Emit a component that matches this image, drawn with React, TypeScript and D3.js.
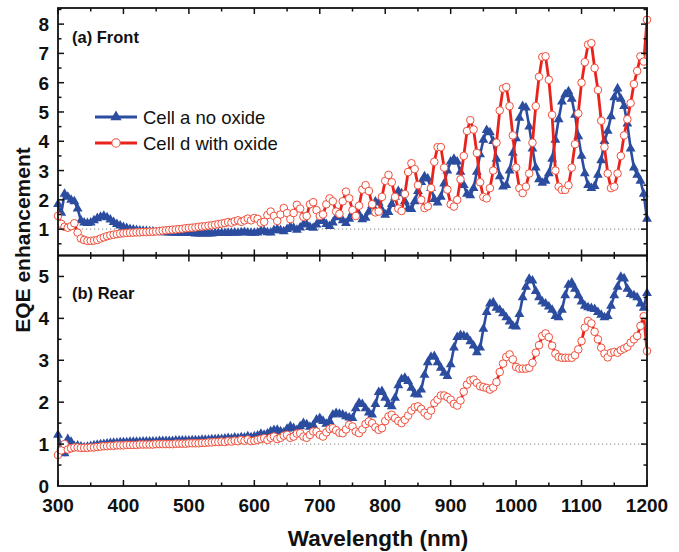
import React, { useEffect, useRef } from 'react';
import * as d3 from 'd3';

// sample grid, 5 nm steps
const wavelengths = d3.range(300, 1201, 5);

// (a) Front
const frontNoOxide = [
  1.85, 1.55, 2.2, 2.1, 2.0, 1.95, 1.7, 1.3, 1.22, 1.2,
  1.22, 1.3, 1.37, 1.42, 1.45, 1.4, 1.32, 1.24, 1.17, 1.12,
  1.07, 1.03, 1.0, 0.98, 0.96, 0.95, 0.94, 0.93, 0.92, 0.91,
  0.9, 0.9, 0.89, 0.89, 0.88, 0.88, 0.87, 0.87, 0.87, 0.86,
  0.86, 0.86, 0.85, 0.85, 0.85, 0.85, 0.85, 0.85, 0.86, 0.86,
  0.86, 0.86, 0.87, 0.87, 0.88, 0.87, 0.89, 0.9, 0.88, 0.87,
  0.87, 0.88, 0.94, 0.93, 0.89, 0.88, 0.96, 1.0, 0.96, 0.92,
  1.0, 1.08, 1.04, 0.97, 1.05, 1.16, 1.16, 1.07, 1.04, 1.15,
  1.27, 1.28, 1.17, 1.1, 1.22, 1.4, 1.44, 1.3, 1.2, 1.35,
  1.55, 1.62, 1.5, 1.33, 1.38, 1.6, 1.82, 1.94, 1.9, 1.65,
  1.49, 1.58, 1.85, 2.1, 2.3, 2.22, 1.95, 1.7, 1.68, 1.95,
  2.3, 2.6, 2.8, 2.72, 2.4, 2.02, 1.9, 2.1, 2.55, 3.0,
  3.3, 3.4, 3.3, 2.95, 2.5, 2.2, 2.15, 2.4, 2.95, 3.55,
  4.05, 4.38, 4.3, 4.0, 3.4, 2.8, 2.45, 2.5, 3.0, 3.6,
  4.1, 4.8, 5.2, 5.15, 4.5, 3.75, 3.1, 2.7, 2.58, 2.65,
  2.9, 3.4, 4.05, 4.75, 5.35, 5.6, 5.7, 5.45, 4.9, 4.17,
  3.5, 2.9, 2.5, 2.4, 2.47, 2.85, 3.35, 4.0, 4.35, 4.85,
  5.5, 5.8, 5.45, 5.2, 4.6, 3.75, 3.1, 2.85, 2.65, 2.2,
  1.35,
];

const frontWithOxide = [
  1.45, 1.18, 1.08, 1.05, 1.1, 1.2, 0.88, 0.68, 0.63, 0.6,
  0.6, 0.61, 0.63, 0.68, 0.72, 0.76, 0.79, 0.81, 0.83, 0.85,
  0.86, 0.87, 0.88, 0.88, 0.89, 0.89, 0.9, 0.9, 0.91, 0.91,
  0.92, 0.93, 0.95, 0.96, 0.97, 0.98, 0.99, 1.0, 1.01, 1.03,
  1.04, 1.05, 1.06, 1.08, 1.09, 1.1, 1.12, 1.13, 1.15, 1.17,
  1.19, 1.21, 1.24, 1.22, 1.27, 1.3, 1.25, 1.3, 1.36, 1.3,
  1.38, 1.35, 1.22, 1.25, 1.48, 1.6, 1.45, 1.28, 1.5, 1.72,
  1.55, 1.34, 1.55, 1.83, 1.7, 1.42, 1.45, 1.85, 1.92, 1.65,
  1.45, 1.5, 1.85, 2.05, 1.95, 1.6, 1.52, 1.95, 2.28, 2.05,
  1.65, 1.45, 1.8, 2.35, 2.5, 2.3, 1.85, 1.57, 1.6, 2.1,
  2.65, 2.85, 2.6, 2.1, 1.7, 1.62, 2.2, 2.95, 3.25, 3.05,
  2.5, 2.0, 1.72, 1.78, 2.4, 3.3, 3.8, 3.8, 3.1, 2.35,
  1.85, 1.77, 2.0, 2.7, 3.5, 4.35, 4.72, 4.4, 3.6, 2.6,
  2.1, 2.05, 2.4, 3.0, 3.95, 5.05, 5.8, 5.85, 5.2, 4.2,
  3.1, 2.4, 2.23, 2.45, 2.9, 3.95, 5.2, 6.2, 6.88, 6.9,
  6.1, 4.9, 3.0, 2.45, 2.34, 2.34, 2.5, 3.1, 3.9, 4.95,
  6.0, 6.7, 7.3, 7.35, 6.5, 5.75, 4.7, 3.8, 2.9, 2.4,
  2.45, 2.9, 3.5, 4.2, 4.75, 5.3, 5.95, 6.4, 6.9, 6.72,
  8.15,
];

// (b) Rear
const rearNoOxide = [
  1.22, 0.92, 0.78, 1.12, 1.05, 0.95, 0.96, 0.94, 0.92, 0.93,
  0.95, 0.97, 0.98, 0.99, 1.0, 1.01, 1.02, 1.03, 1.03, 1.04,
  1.04, 1.04, 1.05, 1.05, 1.05, 1.05, 1.06, 1.06, 1.06, 1.06,
  1.06, 1.07, 1.07, 1.07, 1.07, 1.07, 1.08, 1.08, 1.08, 1.08,
  1.08, 1.09, 1.09, 1.09, 1.1, 1.1, 1.1, 1.11, 1.11, 1.12,
  1.12, 1.13, 1.14, 1.13, 1.15, 1.14, 1.16, 1.15, 1.18, 1.16,
  1.18, 1.2, 1.24, 1.22, 1.25, 1.3, 1.33, 1.34, 1.3, 1.28,
  1.36, 1.42, 1.38, 1.33, 1.42, 1.5, 1.47, 1.41, 1.45, 1.58,
  1.62, 1.55, 1.48, 1.55, 1.7, 1.74, 1.72, 1.7, 1.66, 1.63,
  1.62, 1.85, 1.98, 1.95, 1.85, 1.75, 1.7, 1.95, 2.24, 2.26,
  2.1, 1.95, 1.9, 2.1, 2.4, 2.55, 2.58, 2.5, 2.34, 2.2,
  2.18, 2.3, 2.65, 2.95, 3.08, 3.1, 2.95, 2.82, 2.7, 2.62,
  2.9, 3.3, 3.55, 3.6, 3.58, 3.55, 3.45, 3.35, 3.19, 3.3,
  3.75, 4.15, 4.35, 4.38, 4.25, 4.2, 4.12, 4.02, 3.92, 3.82,
  3.8, 4.1, 4.5, 4.75, 4.94, 4.9, 4.65, 4.5, 4.4, 4.35,
  4.28, 4.2, 4.05, 4.02, 4.2, 4.55, 4.8, 4.85, 4.7, 4.55,
  4.4, 4.3, 4.26, 4.24, 4.22, 4.15, 4.08, 4.02, 4.05, 4.3,
  4.55, 4.75, 4.99, 4.95, 4.7, 4.58, 4.55, 4.5, 4.35, 4.25,
  4.6,
];

const rearWithOxide = [
  0.74, 0.85, 1.0, 0.87, 0.9, 0.92, 0.92, 0.91, 0.91, 0.91,
  0.92, 0.92, 0.93, 0.94, 0.95, 0.95, 0.96, 0.96, 0.97, 0.97,
  0.97, 0.98, 0.98, 0.98, 0.98, 0.99, 0.99, 0.99, 0.99, 0.99,
  1.0, 1.0, 1.0, 1.0, 1.0, 1.0, 1.01, 1.01, 1.01, 1.01,
  1.02, 1.02, 1.02, 1.02, 1.03, 1.03, 1.04, 1.04, 1.05, 1.05,
  1.06, 1.05, 1.07, 1.06, 1.08, 1.07, 1.1, 1.08, 1.11, 1.07,
  1.08, 1.1, 1.12, 1.14, 1.1, 1.15, 1.18, 1.12, 1.15, 1.2,
  1.22, 1.15, 1.18, 1.25, 1.26, 1.18, 1.15, 1.22, 1.3, 1.3,
  1.22, 1.18, 1.28, 1.36, 1.38, 1.33, 1.27, 1.26, 1.35, 1.46,
  1.42, 1.3, 1.26, 1.35, 1.48, 1.54, 1.5, 1.4, 1.34, 1.38,
  1.55, 1.66, 1.7, 1.62, 1.55, 1.5, 1.58, 1.68, 1.8, 1.88,
  1.9, 1.84, 1.75, 1.68, 1.8, 1.98, 2.06, 2.16, 2.16, 2.12,
  2.06, 1.96, 1.92, 2.04, 2.25, 2.42, 2.52, 2.54, 2.46, 2.38,
  2.36, 2.34, 2.3, 2.35, 2.48, 2.72, 2.92, 3.08, 3.14, 3.02,
  2.84, 2.8, 2.8, 2.8, 2.82, 2.94, 3.18, 3.36, 3.58, 3.64,
  3.55, 3.35, 3.16, 3.08, 3.06, 3.06, 3.06, 3.06, 3.12, 3.26,
  3.46, 3.78, 3.94, 3.88, 3.68, 3.5, 3.3, 3.16, 3.07, 3.18,
  3.2, 3.18, 3.24, 3.28, 3.32, 3.42, 3.5, 3.58, 3.82, 4.05,
  3.22,
];

const xTicks = [300, 400, 500, 600, 700, 800, 900, 1000, 1100, 1200];
const xMinor = [350, 450, 550, 650, 750, 850, 950, 1050, 1150];
const frontTicks = [1, 2, 3, 4, 5, 6, 7, 8];
const frontMinor = [0.5, 1.5, 2.5, 3.5, 4.5, 5.5, 6.5, 7.5, 8.5];
const rearTicks = [0, 1, 2, 3, 4, 5];
const rearMinor = [0.5, 1.5, 2.5, 3.5, 4.5];
const legendLabels = ['Cell a no oxide', 'Cell d with oxide'];

const BLUE = '#2b4c9f';
const RED = '#e8231c';
const RED_MARK = '#f0503c';
const FONT = 'Arial, "Liberation Sans", Helvetica, sans-serif';

const App = () => {
  const svgRef = useRef(null);

  useEffect(() => {
    const svg = d3.select(svgRef.current);
    svg.selectAll('*').remove();

    const left = 58, right = 647;
    const x = d3.scaleLinear().domain([300, 1200]).range([left, right]);

    const panels = [
      {
        y: d3.scaleLinear().domain([0.1, 8.55]).range([255.5, 8]),
        top: 8, bottom: 255.5,
        a: frontNoOxide, d: frontWithOxide,
        ticks: frontTicks, minor: frontMinor,
        title: '(a) Front', titleY: 43,
      },
      {
        y: d3.scaleLinear().domain([0, 5.5]).range([486, 255.5]),
        top: 255.5, bottom: 486,
        a: rearNoOxide, d: rearWithOxide,
        ticks: rearTicks, minor: rearMinor,
        title: '(b) Rear', titleY: 299,
      },
    ];

    const tri = d3.symbol().type(d3.symbolTriangle).size(42);

    panels.forEach(p => {
      const g = svg.append('g');

      // reference line at 1
      g.append('line')
        .attr('x1', left).attr('x2', right)
        .attr('y1', p.y(1)).attr('y2', p.y(1))
        .attr('stroke', '#9a9a9a')
        .attr('stroke-width', 1.2)
        .attr('stroke-dasharray', '1.2,2.8');

      const line = d3.line<number>()
        .x((d, i) => x(wavelengths[i]))
        .y(d => p.y(d));

      g.append('path')
        .attr('d', line(p.a))
        .attr('fill', 'none')
        .attr('stroke', BLUE)
        .attr('stroke-width', 2.6);

      g.selectAll('path.tri')
        .data(p.a)
        .enter()
        .append('path')
        .attr('class', 'tri')
        .attr('d', tri)
        .attr('transform', (d, i) => `translate(${x(wavelengths[i])},${p.y(d)})`)
        .attr('fill', BLUE);

      g.append('path')
        .attr('d', line(p.d))
        .attr('fill', 'none')
        .attr('stroke', RED)
        .attr('stroke-width', 2.8);

      g.selectAll('circle')
        .data(p.d)
        .enter()
        .append('circle')
        .attr('cx', (d, i) => x(wavelengths[i]))
        .attr('cy', d => p.y(d))
        .attr('r', 3.8)
        .attr('fill', '#fff')
        .attr('stroke', RED_MARK)
        .attr('stroke-width', 1);

      // frame
      g.append('rect')
        .attr('x', left).attr('y', p.top)
        .attr('width', right - left).attr('height', p.bottom - p.top)
        .attr('fill', 'none')
        .attr('stroke', '#111')
        .attr('stroke-width', 1.8);

      const tickG = g.append('g').attr('stroke', '#111').attr('stroke-width', 1.5);
      const xt = [...xTicks.map(v => [v, 6]), ...xMinor.map(v => [v, 3.5])];
      xt.forEach(([v, len]) => {
        tickG.append('line').attr('x1', x(v)).attr('x2', x(v)).attr('y1', p.top).attr('y2', p.top + len);
        tickG.append('line').attr('x1', x(v)).attr('x2', x(v)).attr('y1', p.bottom).attr('y2', p.bottom - len);
      });
      const yt = [...p.ticks.map(v => [v, 6]), ...p.minor.map(v => [v, 3.5])];
      yt.forEach(([v, len]) => {
        const yy = p.y(v);
        if (yy < p.top + 1 || yy > p.bottom - 1) return;
        tickG.append('line').attr('x1', left).attr('x2', left + len).attr('y1', yy).attr('y2', yy);
        tickG.append('line').attr('x1', right).attr('x2', right - len).attr('y1', yy).attr('y2', yy);
      });

      g.selectAll('text.ylab')
        .data(p.ticks)
        .enter()
        .append('text')
        .attr('class', 'ylab')
        .attr('x', 49)
        .attr('y', d => p.y(d) + 7)
        .attr('text-anchor', 'end')
        .attr('font-family', FONT)
        .attr('font-weight', 'bold')
        .attr('font-size', 19)
        .attr('fill', '#111')
        .text(d => d);

      g.append('text')
        .attr('x', 72)
        .attr('y', p.titleY)
        .attr('font-family', FONT)
        .attr('font-weight', 'bold')
        .attr('font-size', 16.5)
        .attr('fill', '#111')
        .text(p.title);
    });

    // x tick labels
    svg.selectAll('text.xlab')
      .data(xTicks)
      .enter()
      .append('text')
      .attr('class', 'xlab')
      .attr('x', d => x(d))
      .attr('y', 512)
      .attr('text-anchor', 'middle')
      .attr('font-family', FONT)
      .attr('font-weight', 'bold')
      .attr('font-size', 19)
      .attr('fill', '#111')
      .text(d => d);

    svg.append('text')
      .attr('x', 378)
      .attr('y', 546)
      .attr('text-anchor', 'middle')
      .attr('font-family', FONT)
      .attr('font-weight', 'bold')
      .attr('font-size', 22.5)
      .attr('fill', '#111')
      .text('Wavelength (nm)');

    svg.append('text')
      .attr('transform', 'translate(30,240) rotate(-90)')
      .attr('text-anchor', 'middle')
      .attr('font-family', FONT)
      .attr('font-weight', 'bold')
      .attr('font-size', 21)
      .attr('fill', '#111')
      .text('EQE enhancement');

    // legend
    const leg = svg.append('g');
    legendLabels.forEach((label, i) => {
      const ly = 117 + i * 26;
      leg.append('line')
        .attr('x1', 95).attr('x2', 137)
        .attr('y1', ly).attr('y2', ly)
        .attr('stroke', i === 0 ? BLUE : RED)
        .attr('stroke-width', 2.8);
      if (i === 0) {
        leg.append('path')
          .attr('d', d3.symbol().type(d3.symbolTriangle).size(55)())
          .attr('transform', `translate(116,${ly})`)
          .attr('fill', BLUE);
      } else {
        leg.append('circle')
          .attr('cx', 116).attr('cy', ly).attr('r', 4.2)
          .attr('fill', '#fff')
          .attr('stroke', RED_MARK)
          .attr('stroke-width', 1.1);
      }
      leg.append('text')
        .attr('x', 143)
        .attr('y', ly + 6.5)
        .attr('font-family', FONT)
        .attr('font-size', 18.5)
        .attr('fill', '#111')
        .text(label);
    });
  }, []);

  return (
    <div style={{ position: 'absolute', left: 0, top: 0, width: '679px', height: '552px', background: '#fff' }}>
      <svg ref={svgRef} width={679} height={552}></svg>
    </div>
  );
};

export default App;
